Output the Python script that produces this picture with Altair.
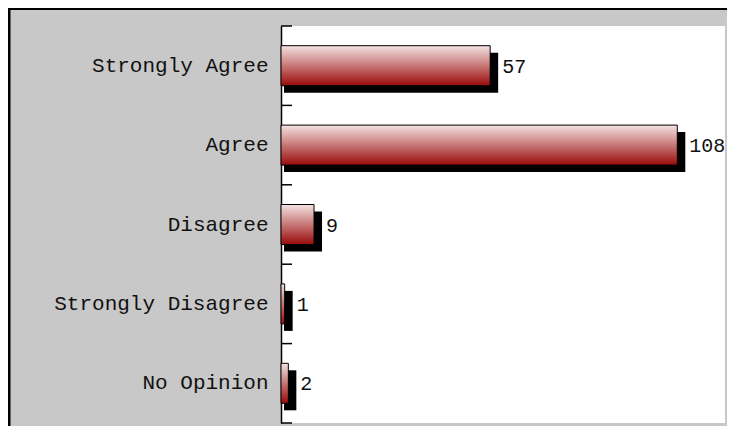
import altair as alt
import pandas as pd

categories = ["Strongly Agree", "Agree", "Disagree", "Strongly Disagree", "No Opinion"]
counts = [57, 108, 9, 1, 2]

df = pd.DataFrame({"cat": categories, "n": counts, "zero": [0] * len(counts)})
one = pd.DataFrame({"a": [0]})

W, H = 444, 397
FONT = "Liberation Mono"

yenc = alt.Y("cat:N", sort=categories,
             scale=alt.Scale(paddingInner=0, paddingOuter=0),
             axis=alt.Axis(title=None, ticks=False, domain=True, domainColor="black",
                           domainWidth=1.5, labelFont=FONT, labelFontSize=21,
                           labelColor="#111111", labelPadding=13, labelLimit=400,
                           grid=False))
xenc = alt.X("n:Q", scale=alt.Scale(domain=[0, 121], nice=False), axis=None, stack=None)
x2enc = alt.X2("zero:Q")

base = alt.Chart(df)

shadow = base.mark_bar(size=40, color="black", xOffset=8, x2Offset=3, yOffset=7).encode(
    x=xenc, x2=x2enc, y=yenc)

grad = alt.Gradient(gradient="linear",
                    stops=[alt.GradientStop(color="#f4e2e2", offset=0),
                           alt.GradientStop(color="#c77777", offset=0.5),
                           alt.GradientStop(color="#9a0a0a", offset=1)],
                    x1=0, x2=0, y1=0, y2=1)

bars = base.mark_bar(size=40, fill=grad, stroke="black", strokeWidth=1).encode(
    x=xenc, x2=x2enc, y=yenc)

labels = base.mark_text(align="left", baseline="middle", dx=12, dy=1, font=FONT,
                        fontSize=20, color="#111111").encode(
    x=xenc, y=alt.Y("cat:N", sort=categories), text="n:Q")

ticks = base.mark_rule(color="black", strokeWidth=1.5).encode(
    y=alt.Y("cat:N", sort=categories, bandPosition=0),
    x=alt.value(0), x2=alt.value(11))

bottom_tick = alt.Chart(one).mark_rule(color="black", strokeWidth=1.5).encode(
    y=alt.value(H), x=alt.value(0), x2=alt.value(11))

left_border = alt.Chart(one).mark_rule(color="black", strokeWidth=3).encode(
    x=alt.value(-272), y=alt.value(-18), y2=alt.value(H + 3))
top_border = alt.Chart(one).mark_rule(color="black", strokeWidth=2).encode(
    y=alt.value(-17), x=alt.value(-273), x2=alt.value(W + 2))

chart = alt.layer(shadow, bars, labels, ticks, bottom_tick, left_border, top_border).properties(
    width=W, height=H,
    background="#c8c8c8",
    autosize=alt.AutoSizeParams(type="none"),
    padding={"left": 273, "top": 18, "right": 2, "bottom": 3},
).configure_view(fill="white", stroke=None)

chart.save("out.html", embed_options={"renderer": "svg", "actions": False})
